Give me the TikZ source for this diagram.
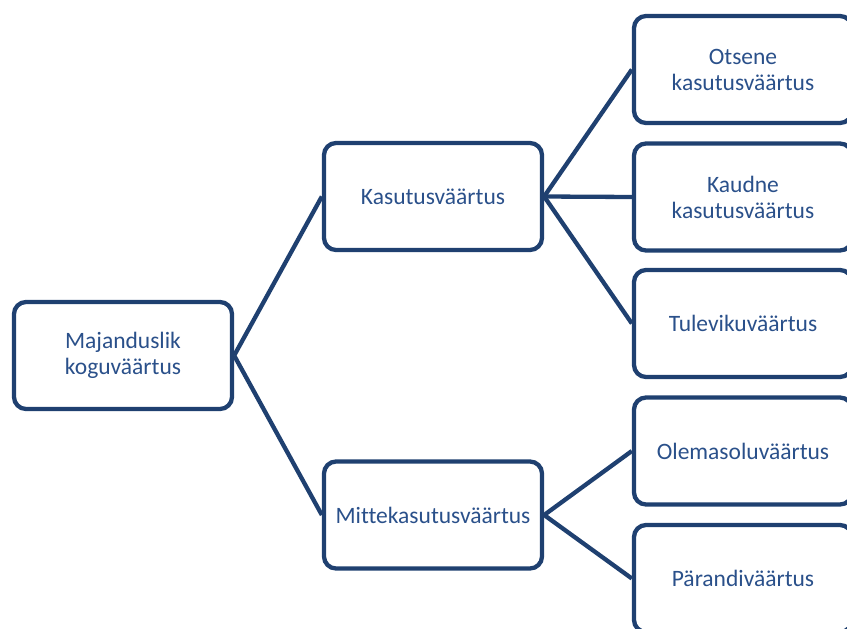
\documentclass[tikz,border=0pt]{standalone}
\usepackage{fontspec}
\setmainfont[Ligatures=NoCommon]{Carlito}
\definecolor{joon}{RGB}{31,64,112}
\definecolor{kiri}{RGB}{42,80,138}
\tikzset{
	kast/.style={draw=joon, line width=4.3pt, rounded corners=12pt, minimum width=218pt, minimum height=107pt, align=center, text=kiri, font=\fontsize{23.5}{26}\selectfont, inner sep=0pt},
	haru/.style={draw=joon, line width=4.3pt}
}
\begin{document}
\begin{tikzpicture}[x=1pt,y=-1pt]
		\useasboundingbox (0,0) rectangle (847,629);
		\node[kast] (kogu) at (123,355.5) {Majanduslik\\koguväärtus};
		\node[kast] (kasu) at (433,196.5) {Kasutusväärtus};
		\node[kast] (mitte) at (433,515) {Mittekasutusväärtus};
		\node[kast] (otse) at (743,69.5) {Otsene\\kasutusväärtus};
		\node[kast] (kaud) at (743,197) {Kaudne\\kasutusväärtus};
		\node[kast] (tule) at (743,323.5) {Tulevikuväärtus};
		\node[kast] (olem) at (743,451) {Olemasoluväärtus};
		\node[kast] (pare) at (743,578.5) {Pärandiväärtus};
		\draw[haru] (kogu.east)--(kasu.west);
		\draw[haru] (kogu.east)--(mitte.west);
		\draw[haru] (kasu.east)--(otse.west);
		\draw[haru] (kasu.east)--(kaud.west);
		\draw[haru] (kasu.east)--(tule.west);
		\draw[haru] (mitte.east)--(olem.west);
		\draw[haru] (mitte.east)--(pare.west);
	\end{tikzpicture}
\end{document}
